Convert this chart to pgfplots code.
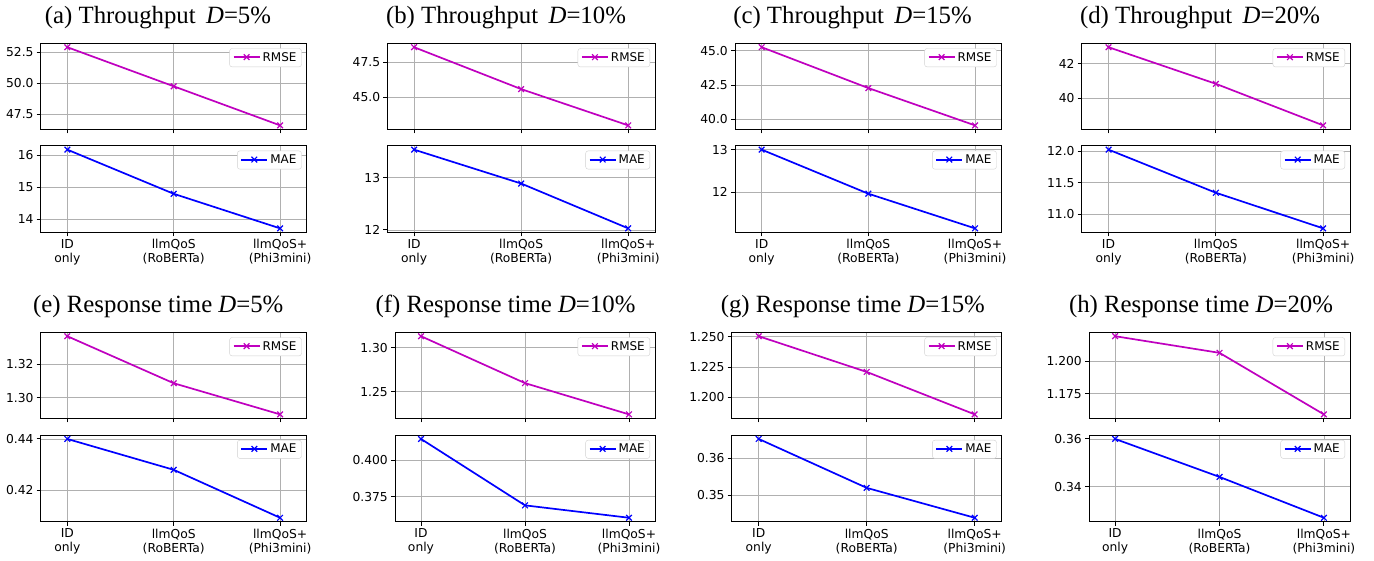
\documentclass[border=0pt]{standalone}
\usepackage{fontspec}
\setmainfont{Liberation Serif}
\newfontfamily\dv{DejaVu Sans}
\usepackage{pgfplots}
\pgfplotsset{compat=1.18}
\definecolor{gridc}{HTML}{B0B0B0}
\definecolor{mpm}{rgb}{0.75,0,0.75}
\pgfplotsset{
  base/.style={scale only axis, anchor=south west, xmin=-0.25, xmax=2.25,
    enlarge y limits=0.05, xtick={0,1,2}, grid=major,
    major grid style={color=gridc, line width=0.8pt},
    axis line style={line width=0.9pt},
    tick align=outside, xtick pos=bottom, ytick pos=left,
    major tick length=4pt, tick style={black, line width=0.9pt},
    tick label style={font=\dv\fontsize{12.3}{14}\selectfont},
    yticklabel style={inner sep=3pt},
    xticklabel style={align=center, inner sep=3pt},
    legend style={at={(1,1)}, anchor=north east, xshift=-5pt, yshift=-5pt,
      draw=black!18, rounded corners=2.5pt, fill=white,
      font=\dv\fontsize{12}{14}\selectfont, inner xsep=3pt, inner ysep=2pt},
    legend cell align=left,
    legend image code/.code={\draw[##1, line width=2pt, yshift=0.5pt, mark repeat=2, mark phase=2] plot coordinates {(0pt,0pt) (13pt,0pt) (26pt,0pt)};},
  },
  topax/.style={base, xticklabels={,,}},
  botax/.style={base, xticklabels={{ID\\only},{llmQoS\\(RoBERTa)},{llmQoS+\\(Phi3mini)}}},
  rmse/.style={color=mpm, line width=1.7pt, mark=x, mark size=4pt, mark options={solid, line width=1.2pt}},
  mae/.style={color=blue, line width=1.7pt, mark=x, mark size=4pt, mark options={solid, line width=1.2pt}},
}
\begin{document}
\begin{tikzpicture}
\useasboundingbox (0,0) rectangle (1374pt,560pt);
% titles
\tikzset{ttl/.style={anchor=base, font=\fontsize{24.8}{28}\selectfont, inner sep=0pt}}
\node[ttl] at (158pt,536.7pt) {(a) Throughput\, \textit{D}=5\%};
\node[ttl] at (506pt,536.7pt) {(b) Throughput\, \textit{D}=10\%};
\node[ttl] at (852.5pt,536.7pt) {(c) Throughput\, \textit{D}=15\%};
\node[ttl] at (1200pt,536.7pt) {(d) Throughput\, \textit{D}=20\%};
\node[ttl] at (158.3pt,247.7pt) {(e) Response time \textit{D}=5\%};
\node[ttl] at (505.5pt,247.7pt) {(f) Response time \textit{D}=10\%};
\node[ttl] at (852.8pt,247.7pt) {(g) Response time \textit{D}=15\%};
\node[ttl] at (1201pt,247.7pt) {(h) Response time \textit{D}=20\%};

% (a)
\begin{axis}[topax, at={(40.7pt,430.7pt)}, width=266pt, height=86pt, ytick={47.5,50,52.5}, yticklabels={47.5,50.0,52.5}]
\addplot[rmse] coordinates {(0,52.90)(1,49.75)(2,46.60)}; \addlegendentry{RMSE}
\end{axis}
\begin{axis}[botax, at={(40.7pt,327.7pt)}, width=266pt, height=86.6pt, ytick={14,15,16}, yticklabels={14,15,16}]
\addplot[mae] coordinates {(0,16.18)(1,14.80)(2,13.72)}; \addlegendentry{MAE}
\end{axis}
% (b)
\begin{axis}[topax, at={(387.3pt,430.7pt)}, width=267.7pt, height=86pt, ytick={45,47.5}, yticklabels={45.0,47.5}]
\addplot[rmse] coordinates {(0,48.57)(1,45.57)(2,42.97)}; \addlegendentry{RMSE}
\end{axis}
\begin{axis}[botax, at={(387.3pt,327.7pt)}, width=267.7pt, height=86.6pt, ytick={12,13}, yticklabels={12,13}]
\addplot[mae] coordinates {(0,13.54)(1,12.89)(2,12.03)}; \addlegendentry{MAE}
\end{axis}
% (c)
\begin{axis}[topax, at={(735pt,430.7pt)}, width=266.7pt, height=86pt, ytick={40,42.5,45}, yticklabels={40.0,42.5,45.0}]
\addplot[rmse] coordinates {(0,45.27)(1,42.28)(2,39.55)}; \addlegendentry{RMSE}
\end{axis}
\begin{axis}[botax, at={(735pt,327.7pt)}, width=266.7pt, height=86.6pt, ytick={12,13}, yticklabels={12,13}]
\addplot[mae] coordinates {(0,13.0)(1,11.97)(2,11.16)}; \addlegendentry{MAE}
\end{axis}
% (d)
\begin{axis}[topax, at={(1081.7pt,430.7pt)}, width=268.3pt, height=86pt, ytick={40,42}, yticklabels={40,42}]
\addplot[rmse] coordinates {(0,42.97)(1,40.83)(2,38.40)}; \addlegendentry{RMSE}
\end{axis}
\begin{axis}[botax, at={(1081.7pt,327.7pt)}, width=268.3pt, height=86.6pt, ytick={11,11.5,12}, yticklabels={11.0,11.5,12.0}]
\addplot[mae] coordinates {(0,12.03)(1,11.34)(2,10.77)}; \addlegendentry{MAE}
\end{axis}
% (e)
\begin{axis}[topax, at={(40.7pt,141.7pt)}, width=266pt, height=86pt, ytick={1.30,1.32}, yticklabels={1.30,1.32}]
\addplot[rmse] coordinates {(0,1.3365)(1,1.3086)(2,1.2901)}; \addlegendentry{RMSE}
\end{axis}
\begin{axis}[botax, at={(40.7pt,38.3pt)}, width=266pt, height=86.7pt, ytick={0.42,0.44}, yticklabels={0.42,0.44}]
\addplot[mae] coordinates {(0,0.4400)(1,0.4279)(2,0.4091)}; \addlegendentry{MAE}
\end{axis}
% (f)
\begin{axis}[topax, at={(395pt,141.7pt)}, width=260pt, height=86pt, ytick={1.25,1.30}, yticklabels={1.25,1.30}]
\addplot[rmse] coordinates {(0,1.3132)(1,1.2598)(2,1.2242)}; \addlegendentry{RMSE}
\end{axis}
\begin{axis}[botax, at={(395pt,38.3pt)}, width=260pt, height=86.7pt, ytick={0.375,0.400}, yticklabels={0.375,0.400}]
\addplot[mae] coordinates {(0,0.4146)(1,0.3691)(2,0.3606)}; \addlegendentry{MAE}
\end{axis}
% (g)
\begin{axis}[topax, at={(731.7pt,141.7pt)}, width=270pt, height=86pt, ytick={1.200,1.225,1.250}, yticklabels={1.200,1.225,1.250}]
\addplot[rmse] coordinates {(0,1.2505)(1,1.2209)(2,1.1857)}; \addlegendentry{RMSE}
\end{axis}
\begin{axis}[botax, at={(731.7pt,38.3pt)}, width=270pt, height=86.7pt, ytick={0.35,0.36}, yticklabels={0.35,0.36}]
\addplot[mae] coordinates {(0,0.3651)(1,0.3520)(2,0.3440)}; \addlegendentry{MAE}
\end{axis}
% (h)
\begin{axis}[topax, at={(1089pt,141.7pt)}, width=261pt, height=86pt, ytick={1.175,1.200}, yticklabels={1.175,1.200}]
\addplot[rmse] coordinates {(0,1.2195)(1,1.2066)(2,1.1589)}; \addlegendentry{RMSE}
\end{axis}
\begin{axis}[botax, at={(1089pt,38.3pt)}, width=261pt, height=86.7pt, ytick={0.34,0.36}, yticklabels={0.34,0.36}]
\addplot[mae] coordinates {(0,0.3600)(1,0.3441)(2,0.3270)}; \addlegendentry{MAE}
\end{axis}
\end{tikzpicture}
\end{document}
